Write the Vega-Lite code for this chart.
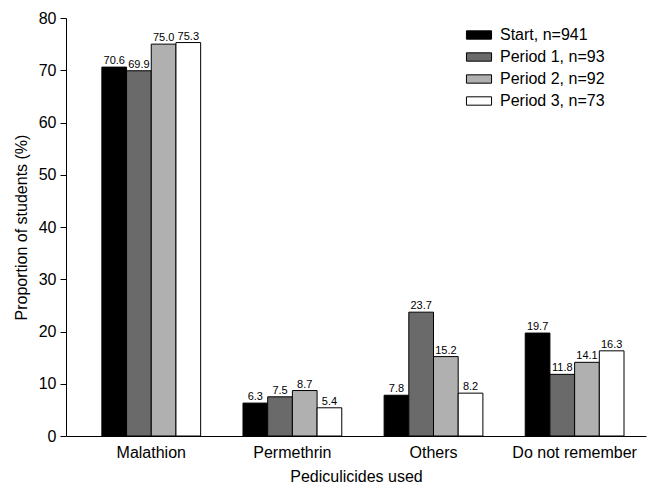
{
  "$schema": "https://vega.github.io/schema/vega-lite/v6.json",
  "width": 580,
  "height": 418,
  "autosize": {"type": "none"},
  "padding": {"left": 66, "top": 18, "right": 8, "bottom": 52},
  "config": {
    "font": "Liberation Sans",
    "view": {"stroke": null},
    "axis": {"grid": false, "domainColor": "#000", "tickColor": "#000", "labelColor": "#000", "titleColor": "#000", "titleFontWeight": "normal"}
  },
  "data": {
    "values": [
      {"drug": "Malathion", "group": "Start, n=941", "v": 70.6},
      {"drug": "Malathion", "group": "Period 1, n=93", "v": 69.9},
      {"drug": "Malathion", "group": "Period 2, n=92", "v": 75.0},
      {"drug": "Malathion", "group": "Period 3, n=73", "v": 75.3},
      {"drug": "Permethrin", "group": "Start, n=941", "v": 6.3},
      {"drug": "Permethrin", "group": "Period 1, n=93", "v": 7.5},
      {"drug": "Permethrin", "group": "Period 2, n=92", "v": 8.7},
      {"drug": "Permethrin", "group": "Period 3, n=73", "v": 5.4},
      {"drug": "Others", "group": "Start, n=941", "v": 7.8},
      {"drug": "Others", "group": "Period 1, n=93", "v": 23.7},
      {"drug": "Others", "group": "Period 2, n=92", "v": 15.2},
      {"drug": "Others", "group": "Period 3, n=73", "v": 8.2},
      {"drug": "Do not remember", "group": "Start, n=941", "v": 19.7},
      {"drug": "Do not remember", "group": "Period 1, n=93", "v": 11.8},
      {"drug": "Do not remember", "group": "Period 2, n=92", "v": 14.1},
      {"drug": "Do not remember", "group": "Period 3, n=73", "v": 16.3}
    ]
  },
  "encoding": {
    "x": {
      "field": "drug", "type": "nominal", "sort": null,
      "scale": {"paddingInner": 0.3, "paddingOuter": 0.205, "align": 0.62},
      "axis": {"title": "Pediculicides used", "labelAngle": 0, "ticks": false, "labelFontSize": 16, "titleFontSize": 16, "labelPadding": 8, "titlePadding": 8}
    },
    "xOffset": {"field": "group", "type": "nominal", "sort": null},
    "y": {
      "field": "v", "type": "quantitative",
      "scale": {"domain": [0, 80], "nice": false},
      "axis": {"title": "Proportion of students (%)", "values": [0,10,20,30,40,50,60,70,80], "labelFontSize": 16, "titleFontSize": 16, "tickSize": 6, "labelPadding": 4, "titlePadding": 9}
    }
  },
  "layer": [
    {
      "mark": {"type": "bar", "stroke": "#000", "strokeWidth": 1},
      "encoding": {
        "fill": {
          "field": "group", "type": "nominal", "sort": null,
          "scale": {"domain": ["Start, n=941", "Period 1, n=93", "Period 2, n=92", "Period 3, n=73"], "range": ["#000000", "#6a6a6a", "#b0b0b0", "#ffffff"]},
          "legend": {
            "title": null, "orient": "none", "legendX": 404, "legendY": 8,
            "symbolType": "M-1.5,-0.5H1.5V0.5H-1.5Z", "symbolSize": 280, "symbolStrokeColor": "#000", "symbolStrokeWidth": 1,
            "labelFontSize": 16, "labelColor": "#000", "rowPadding": 5, "labelOffset": 12, "symbolOffset": 0
          }
        }
      }
    },
    {
      "mark": {"type": "text", "baseline": "bottom", "dy": -1, "fontSize": 11, "color": "#000"},
      "encoding": {
        "text": {"field": "v", "type": "quantitative", "format": ".1f"}
      }
    }
  ]
}
